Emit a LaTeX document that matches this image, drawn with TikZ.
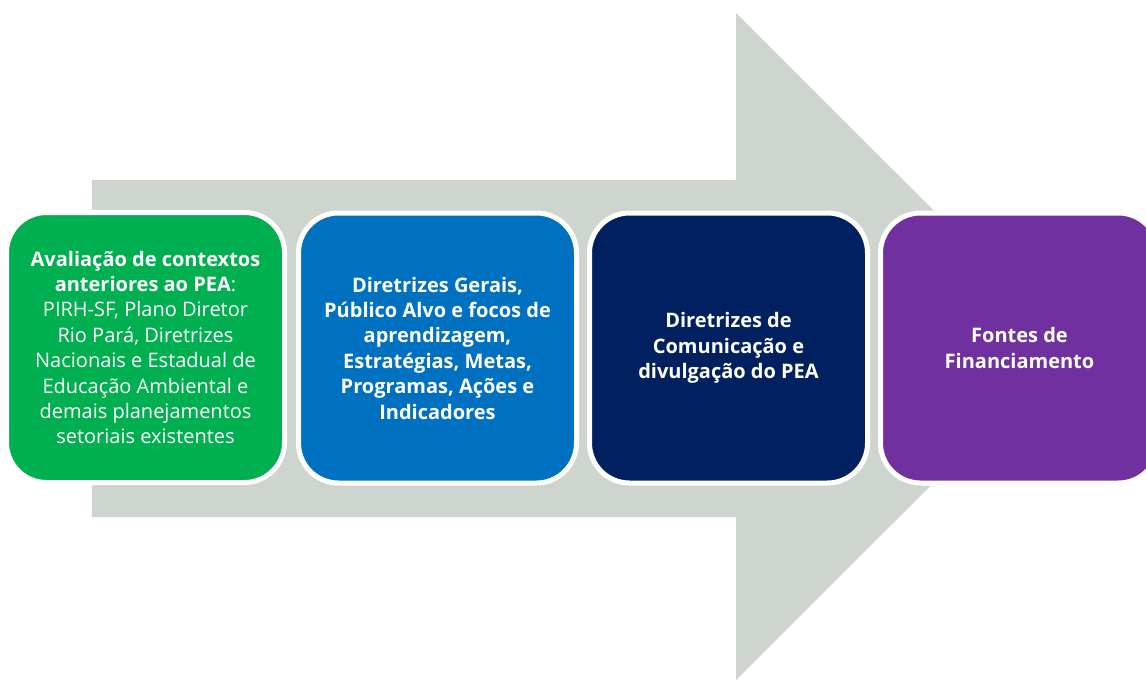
\documentclass[tikz,border=0pt]{standalone}
\usepackage{fontspec}
\setmainfont{Open Sans}
\definecolor{arrowgrey}{HTML}{CED5CE}
\definecolor{boxgreen}{HTML}{00B050}
\definecolor{boxblue}{HTML}{0070C0}
\definecolor{boxnavy}{HTML}{002060}
\definecolor{boxpurple}{HTML}{7030A0}
\begin{document}
\begin{tikzpicture}[x=1pt,y=-1pt,
  stagebox/.style={rounded corners=40pt, minimum width=278pt, minimum height=270pt,
    text=white, align=center, font=\fontsize{20}{25.4}\selectfont,
    draw=white, line width=5pt, inner sep=0pt},
  boldbox/.style={stagebox, font=\fontsize{20}{25.4}\selectfont\bfseries}]
\useasboundingbox (0,0) rectangle (1146,680);
\clip (0,0) rectangle (1146,680);
\fill[arrowgrey] (92,180) -- (736,180) -- (736,13) -- (1070,346.5) -- (736,680) -- (736,517) -- (92,517) -- cycle;
\node[stagebox, fill=boxgreen] (s1) at (145.5,347.5) {\textbf{Avaliação de contextos}\\\textbf{anteriores ao PEA}:\\PIRH-SF, Plano Diretor\\Rio Pará, Diretrizes\\Nacionais e Estadual de\\Educação Ambiental e\\demais planejamentos\\setoriais existentes};
\node[boldbox, fill=boxblue] (s2) at (437.5,348) {Diretrizes Gerais,\\Público Alvo e focos de\\aprendizagem,\\Estratégias, Metas,\\Programas, Ações e\\Indicadores};
\node[boldbox, fill=boxnavy] (s3) at (728.5,348) {Diretrizes de\\Comunicação e\\divulgação do PEA};
\node[boldbox, fill=boxpurple] (s4) at (1019.5,348) {Fontes de\\Financiamento};
\end{tikzpicture}
\end{document}
